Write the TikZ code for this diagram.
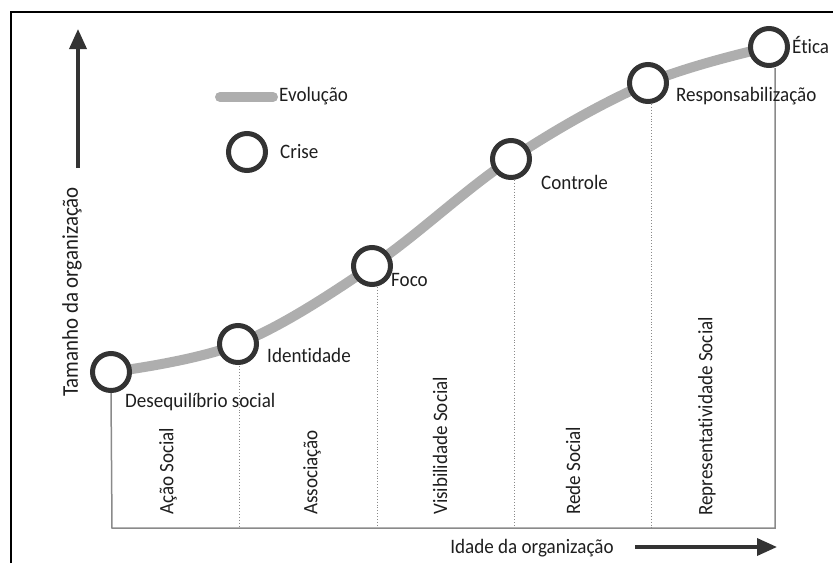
\documentclass[tikz,border=0pt]{standalone}
\usepackage{fontspec}
\setmainfont{Carlito}[FakeStretch=0.93,Ligatures=NoCommon]
\usetikzlibrary{arrows.meta}
\definecolor{crisecol}{HTML}{333333}
\definecolor{evolcol}{HTML}{AEAEAE}
\definecolor{axiscol}{HTML}{8A8A8A}
\definecolor{txtcol}{HTML}{1E1E1E}
\begin{document}
\begin{tikzpicture}[x=1pt,y=-1pt,
  crise/.style={circle,draw=crisecol,line width=5pt,fill=white,minimum size=37pt,inner sep=0pt},
  evol/.style={evolcol,line width=10pt,line cap=round},
  lbl/.style={text=txtcol,font=\fontsize{20.5}{22}\selectfont,inner sep=0pt},
  phase/.style={lbl,rotate=90,anchor=west},
  axisline/.style={axiscol,line width=1.5pt},
  divline/.style={axiscol,line width=0.9pt,dotted},
  bigarrow/.style={crisecol,line width=3.5pt,-{Triangle[length=20pt,width=17pt]}}
]
\useasboundingbox (0,0) rectangle (833,563);
% frame
\draw[black,line width=2.5pt] (11,563) -- (11,12) -- (833,12);

% evolution curve
\draw[evol] plot[smooth,tension=0.6] coordinates {(111,372) (238,344) (372,266) (511,159) (648,83) (769,47)};

% crisis circles
\node[crise] (c1) at (111,372) {};
\node[crise] (c2) at (238,344) {};
\node[crise] (c3) at (372,266) {};
\node[crise] (c4) at (511,159) {};
\node[crise] (c5) at (648,83) {};
\node[crise] (c6) at (769,47) {};

% base and dividers
\coordinate (bl) at (112,528);
\coordinate (br) at (775,528);
\coordinate (d2) at (239,366);
\coordinate (d3) at (377,287);
\coordinate (d4) at (514,180);
\coordinate (d5) at (651,104);
\coordinate (d6) at (775,68);
\draw[axisline] (c1.south) -- (bl) -- (br) -- (d6);
\draw[divline] (d2) -- (d2 |- bl);
\draw[divline] (d3) -- (d3 |- bl);
\draw[divline] (d4) -- (d4 |- bl);
\draw[divline] (d5) -- (d5 |- bl);

% crisis labels
\node[lbl,anchor=west] (t1) at (125,402) {Desequilíbrio social};
\node[lbl,anchor=west] (t2) at (267,355) {Identidade};
\node[lbl,anchor=west] (t3) at (391,280) {Foco};
\node[lbl,anchor=west] (t4) at (541,182) {Controle};
\node[lbl,anchor=west] (t5) at (676,96) {Responsabilização};
\node[lbl,anchor=west] (t6) at (792,45) {Ética};

% phase labels
\node[phase] (p1) at (168,515) {Ação Social};
\node[phase] (p2) at (312,515) {Associação};
\node[phase] (p3) at (440,515) {Visibilidade Social};
\node[phase] (p4) at (573,515) {Rede Social};
\node[phase] (p5) at (707,516) {Representatividade Social};

% legend
\coordinate (lg1) at (220,97);
\coordinate (lg2) at (273,97);
\draw[evol] (lg1) -- (lg2);
\node[lbl,anchor=west] (lev) at (279,96) {Evolução};
\node[crise] (lc) at (247,152) {};
\node[lbl,anchor=west] (lcr) at (280,152) {Crise};

% axes arrows
\coordinate (ya) at (78,168);
\coordinate (yb) at (78,29);
\draw[bigarrow] (ya) -- (yb);
\node[lbl,rotate=90,font=\fontsize{22.5}{24}\selectfont] (ylab) at (72,292) {Tamanho da organização};
\coordinate (xa) at (635,547);
\coordinate (xb) at (777,547);
\draw[bigarrow] (xa) -- (xb);
\node[lbl] (xlab) at (532,548) {Idade da organização};
\end{tikzpicture}
\end{document}
